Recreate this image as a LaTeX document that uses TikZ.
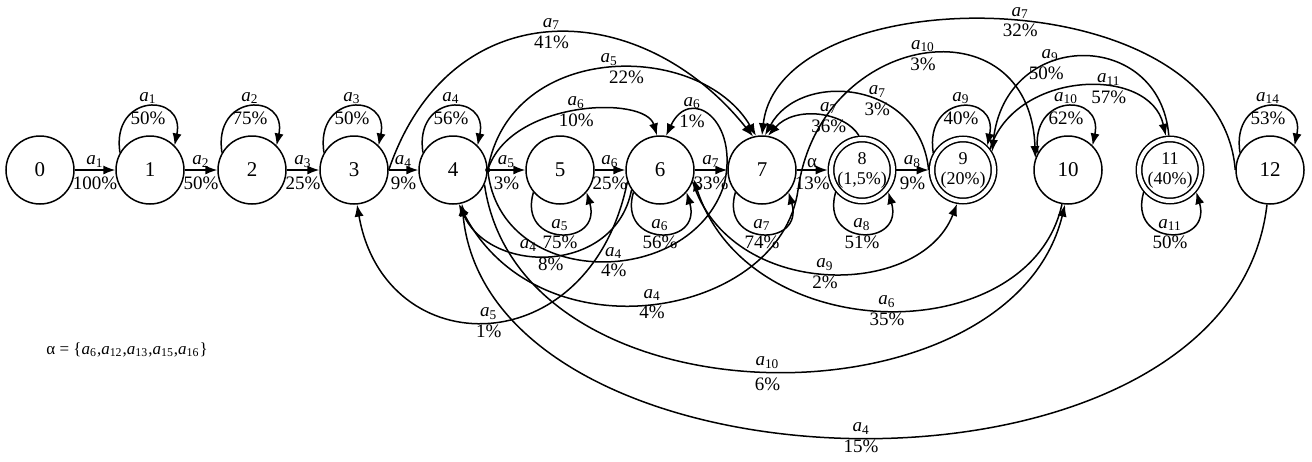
\documentclass[tikz,border=0pt]{standalone}
\usepackage{fontspec}
\setmainfont{Liberation Serif}
\usetikzlibrary{arrows.meta}
\newcommand{\acti}[1]{\textit{a}\textsubscript{#1}}

\tikzset{
  state/.style={circle, draw, line width=0.75pt, minimum size=34pt, inner sep=0pt,
    font=\fontsize{10.5}{11}\selectfont},
  final/.style={state, double, double distance=2pt, minimum size=31pt, outer sep=1.7pt,
    align=center, font=\fontsize{9}{10}\selectfont},
  flow/.style={line width=0.75pt, -{Latex[length=6pt,width=4.6pt]}},
  both/.style={line width=0.75pt, {Latex[length=6pt,width=4.6pt]}-{Latex[length=6pt,width=4.6pt]}},
  lbl/.style={font=\fontsize{9.5}{10}\selectfont, inner sep=1pt},
}

\begin{document}
\begin{tikzpicture}[x=0.5pt, y=-0.5pt]
  \useasboundingbox (0,0) rectangle (1312,461);

  % states
  \foreach \i/\x in {0/40,1/150,2/252,3/354,4/453,5/560,6/660,7/762,10/1068,12/1270}
    \node[state] (s\i) at (\x,170) {\i};
  \node[final] (s8) at (862,170) {8\\(1,5\%)};
  \node[final] (s9) at (963,170) {9\\(20\%)};
  \node[final] (s11) at (1170,170) {11\\(40\%)};

  % straight transitions
  \foreach \a/\b/\l/\p in {0/1/1/100,1/2/2/50,2/3/3/25,3/4/4/9,4/5/5/3,5/6/6/25,6/7/7/33,8/9/8/9}
    \draw[flow] (s\a) -- node[lbl,above]{\acti{\l}} node[lbl,below=2pt]{\p\%} (s\b);
  \draw[flow] (s7) -- node[lbl,above]{α} node[lbl,below=2pt]{13\%} (s8);

  % self loops, top and bottom
  \foreach \n/\l/\p in {1/1/50,2/2/75,3/3/50,4/4/56,9/9/40,10/10/62,12/14/53}
    \draw[flow] (s\n.150) .. controls +(-9,-60) and +(11,-53)
      .. node[lbl,pos=.5,above]{\acti{\l}} node[lbl,pos=.5,below=1pt]{\p\%} (s\n.45);
  \foreach \n/\l/\p in {5/5/75,6/6/56,7/7/74,8/8/51,11/11/50}
    \draw[flow] (s\n.-140) .. controls +(-16,55) and +(16,55)
      .. node[lbl,pos=.5,above]{\acti{\l}} node[lbl,pos=.5,below]{\p\%} (s\n.-40);

  % arcs over the states
  \draw[flow] (s3.east) .. controls (450,-10) and (640,-5)
    .. node[lbl,pos=.5,above]{\acti{7}} node[lbl,pos=.5,below]{41\%} (s7.105);
  \draw[flow] (s4.east) .. controls (510,40) and (700,40)
    .. node[lbl,pos=.5,above]{\acti{5}} node[lbl,pos=.55,below]{22\%} (s7.100);
  \draw[flow] (s4.east) .. controls (510,100) and (645,95)
    .. node[lbl,pos=.5,above]{\acti{6}} node[lbl,pos=.5,below]{10\%} (s6.95);
  \draw[flow] (s8.95) .. controls (845,112) and (795,105)
    .. node[lbl,pos=.4,above]{\acti{7}} node[lbl,pos=.4,below]{36\%} (s7.80);
  \draw[flow] (s9.west) .. controls (920,80) and (800,70)
    .. node[lbl,pos=.4,above]{\acti{7}} node[lbl,pos=.4,below]{3\%} (s7.85);
  \draw[flow] (s12.west) .. controls (1220,-24) and (780,-24)
    .. node[lbl,pos=.47,above]{\acti{7}} node[lbl,pos=.47,below]{32\%} (s7.90);
  \draw[flow] (s11.92) .. controls (1160,28) and (1005,28)
    .. node[lbl,pos=.63,above]{\acti{9}} node[lbl,pos=.63,below,xshift=-2pt]{50\%} (s9.32);
  \draw[flow] (s9.38) .. controls (1015,70) and (1150,65)
    .. node[lbl,pos=.62,above]{\acti{11}} node[lbl,pos=.62,below]{57\%} (s11.97);

  % arcs under the states
  \fill (s4.east) circle (1.3pt);
  \draw[flow] (s4.east) .. controls (500,290) and (690,290)
    .. node[lbl,pos=.55,above]{\acti{4}} node[lbl,pos=.55,below]{4\%} (724,185)
    .. controls (740,120) and (690,85)
    .. node[lbl,pos=.7,above]{\acti{6}} node[lbl,pos=.7,below]{1\%} (s6.80);
  \draw[both] (s4.-80) .. controls (540,360) and (780,318)
    .. node[lbl,pos=.5,above]{\acti{4}} node[lbl,pos=.5,below]{4\%} (798,190)
    .. controls (820,30) and (1030,0)
    .. node[lbl,pos=.5,above]{\acti{10}} node[lbl,pos=.5,below]{3\%} (s10.160);
  \draw[flow] (s6.200) .. controls (590,365) and (385,365)
    .. node[lbl,pos=.5,above]{\acti{5}} node[lbl,pos=.5,below]{1\%} (s3.-85);
  \draw[flow] (s6.215) .. controls (615,275) and (490,275)
    .. node[lbl,pos=.6,above]{\acti{4}} node[lbl,pos=.5,below]{8\%} (s4.-80);
  \draw[flow] (s4.-25) .. controls (520,430) and (1010,430)
    .. node[lbl,pos=.5,above]{\acti{10}} node[lbl,pos=.5,below=2pt]{6\%} (s10.-95);
  \draw[flow] (s12.-95) .. controls (1230,525) and (490,505)
    .. node[lbl,pos=.5,above]{\acti{4}} node[lbl,pos=.5,below]{15\%} (s4.-75);
  \draw[flow] (s10.-100) .. controls (1030,350) and (750,350)
    .. node[lbl,pos=.5,above]{\acti{6}} node[lbl,pos=.5,below]{35\%} (s6.-15);
  \draw[flow] (s6.-20) .. controls (730,300) and (920,300)
    .. node[lbl,pos=.5,above]{\acti{9}} node[lbl,pos=.5,below]{2\%} (s9.-100);

  % alpha set
  \node[lbl, anchor=west, font=\fontsize{8.5}{9}\selectfont] (alphaset) at (44,350)
    {α = \{\acti{6},\acti{12},\acti{13},\acti{15},\acti{16}\}};
\end{tikzpicture}
\end{document}
